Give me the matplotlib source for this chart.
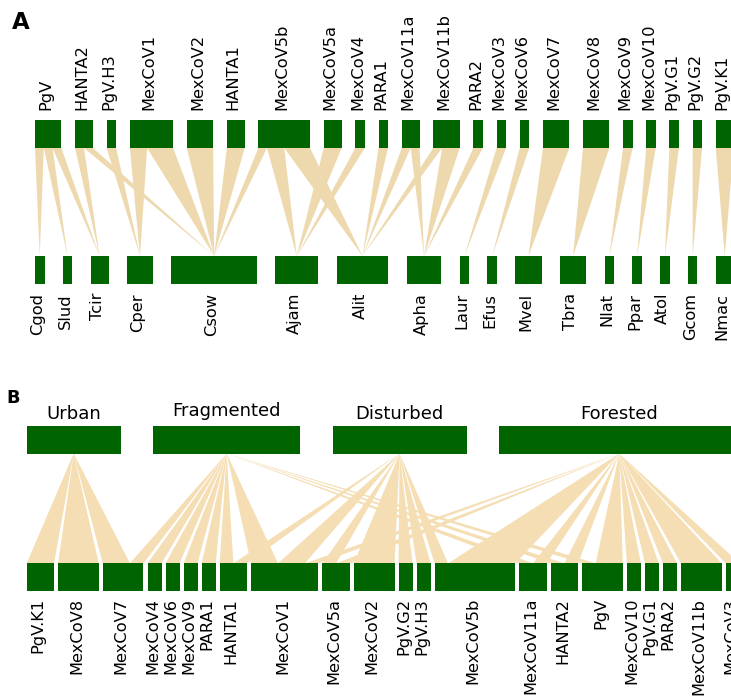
import matplotlib
matplotlib.use("Agg")
import matplotlib.pyplot as plt
from matplotlib.patches import Rectangle, Polygon

plt.rcParams["font.family"] = ["DejaVu Sans"]

# ---------------- Panel A: viruses (upper level) x host species (lower level)
viruses_A = ["PgV", "HANTA2", "PgV.H3", "MexCoV1", "MexCoV2", "HANTA1",
             "MexCoV5b", "MexCoV5a", "MexCoV4", "PARA1", "MexCoV11a",
             "MexCoV11b", "PARA2", "MexCoV3", "MexCoV6", "MexCoV7", "MexCoV8",
             "MexCoV9", "MexCoV10", "PgV.G1", "PgV.G2", "PgV.K1"]
hosts_A = ["Cgod", "Slud", "Tcir", "Cper", "Csow", "Ajam", "Alit", "Apha",
           "Laur", "Efus", "Mvel", "Tbra", "Nlat", "Ppar", "Atol", "Gcom", "Nmac"]
links_A = [
    ("PgV", "Cgod", 1), ("PgV", "Slud", 1), ("PgV", "Tcir", 1),
    ("HANTA2", "Tcir", 1), ("HANTA2", "Csow", 1),
    ("PgV.H3", "Cper", 1),
    ("MexCoV1", "Cper", 2), ("MexCoV1", "Csow", 3),
    ("MexCoV2", "Csow", 3),
    ("HANTA1", "Csow", 2),
    ("MexCoV5b", "Csow", 1), ("MexCoV5b", "Ajam", 2), ("MexCoV5b", "Alit", 3),
    ("MexCoV5a", "Ajam", 2),
    ("MexCoV4", "Ajam", 1),
    ("PARA1", "Alit", 1),
    ("MexCoV11a", "Alit", 1), ("MexCoV11a", "Apha", 1),
    ("MexCoV11b", "Alit", 1), ("MexCoV11b", "Apha", 2),
    ("PARA2", "Apha", 1),
    ("MexCoV3", "Laur", 1),
    ("MexCoV6", "Efus", 1),
    ("MexCoV7", "Mvel", 3),
    ("MexCoV8", "Tbra", 3),
    ("MexCoV9", "Nlat", 1),
    ("MexCoV10", "Ppar", 1),
    ("PgV.G1", "Atol", 1),
    ("PgV.G2", "Gcom", 1),
    ("PgV.K1", "Nmac", 2),
]

# ---------------- Panel B: habitats (upper level) x viruses (lower level)
habitats_B = ["Urban", "Fragmented", "Disturbed", "Forested"]
viruses_B = ["PgV.K1", "MexCoV8", "MexCoV7", "MexCoV4", "MexCoV6", "MexCoV9",
             "PARA1", "HANTA1", "MexCoV1", "MexCoV5a", "MexCoV2", "PgV.G2",
             "PgV.H3", "MexCoV5b", "MexCoV11a", "HANTA2", "PgV", "MexCoV10",
             "PgV.G1", "PARA2", "MexCoV11b", "MexCoV3"]
links_B = [
    ("Urban", "PgV.K1", 2), ("Urban", "MexCoV8", 3), ("Urban", "MexCoV7", 2),
    ("Fragmented", "MexCoV7", 1), ("Fragmented", "MexCoV4", 1),
    ("Fragmented", "MexCoV6", 1), ("Fragmented", "MexCoV9", 1),
    ("Fragmented", "PARA1", 1), ("Fragmented", "HANTA1", 1),
    ("Fragmented", "MexCoV1", 2), ("Fragmented", "MexCoV11a", 1),
    ("Fragmented", "HANTA2", 1), ("Fragmented", "PgV", 1),
    ("Disturbed", "HANTA1", 1), ("Disturbed", "MexCoV1", 2),
    ("Disturbed", "MexCoV5a", 1), ("Disturbed", "MexCoV2", 3),
    ("Disturbed", "PgV.G2", 1), ("Disturbed", "PgV.H3", 1),
    ("Disturbed", "MexCoV5b", 1),
    ("Forested", "MexCoV1", 1), ("Forested", "MexCoV5a", 1),
    ("Forested", "MexCoV5b", 5), ("Forested", "MexCoV11a", 1),
    ("Forested", "HANTA2", 1), ("Forested", "PgV", 2),
    ("Forested", "MexCoV10", 1), ("Forested", "PgV.G1", 1),
    ("Forested", "PARA2", 1), ("Forested", "MexCoV11b", 3),
    ("Forested", "MexCoV3", 1),
]

BOX = "#006400"
LINK_A = "#EED8AE"
LINK_B = "#F5DEB3"

W, H = 731, 696
fig = plt.figure(figsize=(W / 100, H / 100), dpi=100)
ax = fig.add_axes([0, 0, 1, 1])
ax.set_xlim(0, W)
ax.set_ylim(H, 0)
ax.axis("off")


def totals(names, links, idx):
    t = {n: 0 for n in names}
    for l in links:
        t[l[idx]] += l[2]
    return t


def layout(names, tot, x0, span, unit, pad):
    """Left edge and width of every box; gaps fill the remaining span."""
    widths = [tot[n] * unit + pad for n in names]
    gap = (span - sum(widths)) / (len(names) - 1)
    pos, x = {}, x0
    for n, w in zip(names, widths):
        pos[n] = (x, w)
        x += w + gap
    return pos


def draw_boxes(pos, y0, y1):
    for x, w in pos.values():
        ax.add_patch(Rectangle((x, y0), w, y1 - y0, facecolor=BOX,
                               edgecolor="none", zorder=3))


def plotweb(upper, lower, links, x0, span, unit, pad,
            top_y, bot_y, box_h, link_col, fan_at_bottom):
    tu = totals(upper, links, 0)
    tl = totals(lower, links, 1)
    pu = layout(upper, tu, x0, span, unit, pad)
    pl = layout(lower, tl, x0, span, unit, pad)
    draw_boxes(pu, top_y, top_y + box_h)
    draw_boxes(pl, bot_y, bot_y + box_h)
    y_a, y_b = top_y + box_h, bot_y
    if fan_at_bottom:
        # each upper box is split into segments, ordered by lower level
        for u in upper:
            x, w = pu[u]
            cur = x
            for lo in lower:
                for a, b, n in links:
                    if a == u and b == lo:
                        seg = w * n / tu[u]
                        lx, lw = pl[lo]
                        ax.add_patch(Polygon(
                            [(cur, y_a), (cur + seg, y_a), (lx + lw / 2, y_b)],
                            closed=True, facecolor=link_col, edgecolor="none",
                            zorder=1))
                        cur += seg
    else:
        # each lower box is split into segments, ordered by upper level
        for lo in lower:
            x, w = pl[lo]
            cur = x
            for u in upper:
                for a, b, n in links:
                    if a == u and b == lo:
                        seg = w * n / tl[lo]
                        ux, uw = pu[u]
                        ax.add_patch(Polygon(
                            [(ux + uw / 2, y_a), (cur, y_b), (cur + seg, y_b)],
                            closed=True, facecolor=link_col, edgecolor="none",
                            zorder=1))
                        cur += seg
    return pu, pl


LAB = 11.7

# Panel A
pu, pl = plotweb(viruses_A, hosts_A, links_A, x0=35, span=698.7, unit=8.43,
                 pad=1.07, top_y=120, bot_y=256, box_h=28, link_col=LINK_A,
                 fan_at_bottom=True)
for n, (x, w) in pu.items():
    ax.text(x + w / 2 - 2.5, 110, n, rotation=90, ha="center", va="bottom",
            fontsize=LAB)
for n, (x, w) in pl.items():
    ax.text(x + w / 2 - 2.5, 293, n, rotation=90, ha="center", va="top",
            fontsize=LAB)

# Panel B
pu, pl = plotweb(habitats_B, viruses_B, links_B, x0=26.7, span=713,
                 unit=13.34, pad=0.66, top_y=426, bot_y=563.3, box_h=27.5,
                 link_col=LINK_B, fan_at_bottom=False)
for n, (x, w) in pu.items():
    # vertically centred on the ink, so names with descenders sit higher
    lift = 3 if any(c in "gjpqy" for c in n) else 0
    ax.text(x + w / 2, 419 - lift, n, ha="center", va="baseline", fontsize=13)
for n, (x, w) in pl.items():
    ax.text(x + w / 2 - 2, 598, n, rotation=90, ha="center", va="top",
            fontsize=LAB)

ax.text(12, 11, "A", fontsize=16.5, fontweight="bold", ha="left", va="top")
ax.text(6.5, 389, "B", fontsize=12.7, fontweight="bold", ha="left", va="top")

fig.savefig("out.png", dpi=100)
